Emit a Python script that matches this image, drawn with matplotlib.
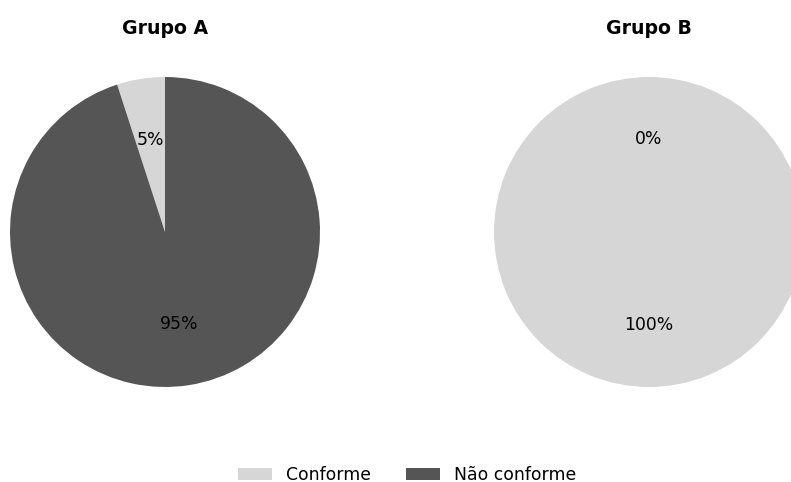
import matplotlib
matplotlib.use("Agg")
import matplotlib.pyplot as plt

groups = ["Grupo A", "Grupo B"]
categories = ["Conforme", "Não conforme"]
values_a = [5, 95]
values_b = [100, 0]
colors = ["#d6d6d6", "#555555"]

W, H = 791, 482
fig = plt.figure(figsize=(W / 100, H / 100), dpi=100)

def px_axes(cx, cy, r):
    return fig.add_axes([(cx - r) / W, (H - cy - r) / H, 2 * r / W, 2 * r / H])

centers = [(165, 232), (649, 232)]
R = 155
wedges_for_legend = None
for (cx, cy), title, vals in zip(centers, groups, [values_a, values_b]):
    ax = px_axes(cx, cy, R)
    wedges, texts, autotexts = ax.pie(vals, colors=colors, startangle=90,
                                      counterclock=True, autopct="%1.0f%%",
                                      pctdistance=0.6,
                                      textprops={"fontsize": 12.4})
    ax.set_xlim(-1, 1)
    ax.set_ylim(-1, 1)
    ax.set_aspect("equal")
    ax.axis("off")
    fig.text(cx / W, 1 - 29 / H, title, ha="center", va="center",
             fontsize=13.6, fontweight="bold")
    if wedges_for_legend is None:
        wedges_for_legend = wedges

fig.legend(wedges_for_legend, categories, loc="center", ncol=2, frameon=False,
           fontsize=12.4, bbox_to_anchor=(407 / W, 1 - 475 / H),
           handlelength=2.0, columnspacing=2.0)

fig.savefig("out.png", dpi=100)
